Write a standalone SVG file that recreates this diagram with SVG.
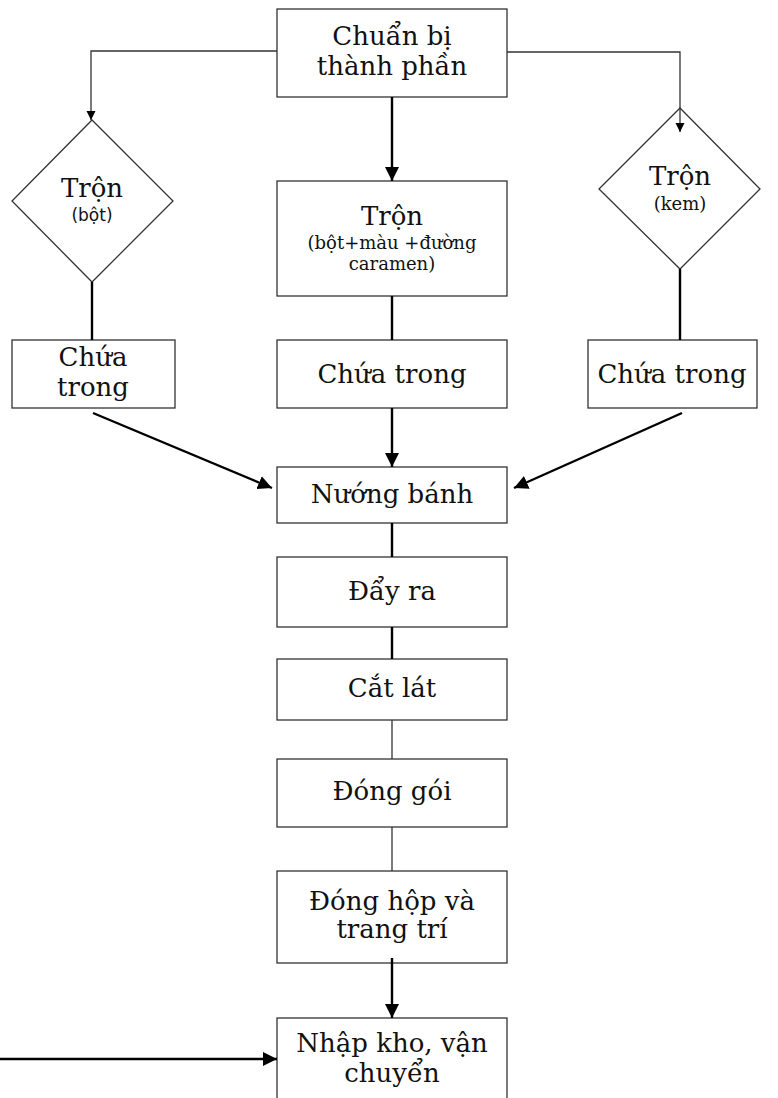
<svg xmlns="http://www.w3.org/2000/svg" width="778" height="1098" viewBox="0 0 778 1098">
  <style>
    .box { fill: #fff; stroke: #333; stroke-width: 1.3; }
    .t { font-family: "DejaVu Serif", "Liberation Serif", serif; font-size: 26px; fill: #111; text-anchor: middle; }
    .s { font-family: "DejaVu Serif", "Liberation Serif", serif; font-size: 18px; fill: #111; text-anchor: middle; }
    .thick { fill: none; stroke: #000; stroke-width: 2.4; }
    .thin { fill: none; stroke: #333; stroke-width: 1.3; }
  </style>
  <defs>
    <marker id="head" viewBox="0 0 10 10" refX="10" refY="5" markerWidth="14" markerHeight="18" markerUnits="userSpaceOnUse" orient="auto">
      <path d="M0,0 L10,5 L0,10 z" fill="#000"/>
    </marker>
    <marker id="headFlat" viewBox="0 0 10 10" refX="10" refY="5" markerWidth="9" markerHeight="17" markerUnits="userSpaceOnUse" orient="auto">
      <path d="M0,0 L10,5 L0,10 z" fill="#000"/>
    </marker>
  </defs>

  <rect width="778" height="1098" fill="#fff"/>

  <g id="chuan-bi">
    <rect class="box" x="277" y="9" width="230" height="88"/>
    <text class="t" x="392" y="45">Chuẩn bị</text>
    <text class="t" x="392" y="75">thành phần</text>
  </g>

  <g id="tron-bot">
    <polygon class="box" points="92,120 173,201 92,282 12,201"/>
    <text class="t" x="92" y="197">Trộn</text>
    <text class="s" x="92" y="221" style="font-family: 'DejaVu Sans', sans-serif; font-size: 17px;">(bột)</text>
  </g>

  <g id="tron-giua">
    <rect class="box" x="277" y="181" width="230" height="115"/>
    <text class="t" x="392" y="225">Trộn</text>
    <text class="s" x="392" y="249">(bột+màu +đường</text>
    <text class="s" x="392" y="270">caramen)</text>
  </g>

  <g id="tron-kem">
    <polygon class="box" points="680,108 760,189 680,269 599,189"/>
    <text class="t" x="680" y="185">Trộn</text>
    <text class="s" x="680" y="210">(kem)</text>
  </g>

  <g id="chua-trai">
    <rect class="box" x="12" y="340" width="163" height="68"/>
    <text class="t" x="93" y="366">Chứa</text>
    <text class="t" x="93" y="396">trong</text>
  </g>

  <g id="chua-giua">
    <rect class="box" x="277" y="340" width="230" height="68"/>
    <text class="t" x="392" y="383">Chứa trong</text>
  </g>

  <g id="chua-phai">
    <rect class="box" x="588" y="340" width="169" height="68"/>
    <text class="t" x="672" y="383">Chứa trong</text>
  </g>

  <g id="nuong-banh">
    <rect class="box" x="277" y="467" width="230" height="56"/>
    <text class="t" x="392" y="503">Nướng bánh</text>
  </g>

  <g id="day-ra">
    <rect class="box" x="277" y="557" width="230" height="70"/>
    <text class="t" x="392" y="600">Đẩy ra</text>
  </g>

  <g id="cat-lat">
    <rect class="box" x="277" y="659" width="230" height="61"/>
    <text class="t" x="392" y="697">Cắt lát</text>
  </g>

  <g id="dong-goi">
    <rect class="box" x="277" y="759" width="230" height="68"/>
    <text class="t" x="392" y="800">Đóng gói</text>
  </g>

  <g id="dong-hop">
    <rect class="box" x="277" y="871" width="230" height="92"/>
    <text class="t" x="392" y="910">Đóng hộp và</text>
    <text class="t" x="392" y="938">trang trí</text>
  </g>

  <g id="nhap-kho">
    <rect class="box" x="277" y="1018" width="230" height="90"/>
    <text class="t" x="392" y="1052">Nhập kho, vận</text>
    <text class="t" x="392" y="1082">chuyển</text>
  </g>

  <!-- drawn last so the arrow into the cream mixer shows over the diamond -->
  <g id="connectors">
    <polyline class="thin" points="277,51 91,51 91,120" marker-end="url(#headFlat)"/>
    <polyline class="thin" points="507,52 680,52 680,132" marker-end="url(#headFlat)"/>
    <line class="thick" x1="392" y1="97" x2="392" y2="181" marker-end="url(#head)"/>
    <line class="thick" x1="92" y1="282" x2="92" y2="340"/>
    <line class="thick" x1="392" y1="296" x2="392" y2="340"/>
    <line class="thick" x1="680" y1="269" x2="680" y2="340"/>
    <line class="thick" x1="93" y1="413" x2="272" y2="488" marker-end="url(#head)"/>
    <line class="thick" x1="392" y1="408" x2="392" y2="467" marker-end="url(#head)"/>
    <line class="thick" x1="682" y1="413" x2="514" y2="488" marker-end="url(#head)"/>
    <line class="thick" x1="392" y1="523" x2="392" y2="557"/>
    <line class="thick" x1="392" y1="627" x2="392" y2="659"/>
    <line class="thin" x1="392" y1="720" x2="392" y2="759"/>
    <line class="thin" x1="392" y1="827" x2="392" y2="871"/>
    <line class="thick" x1="392" y1="958" x2="392" y2="1018" marker-end="url(#head)"/>
    <line class="thick" x1="0" y1="1059" x2="277" y2="1059" marker-end="url(#head)"/>
  </g>
</svg>
